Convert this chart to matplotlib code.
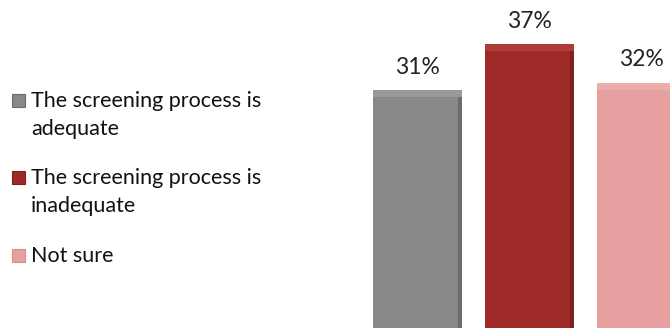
import matplotlib.pyplot as plt
from matplotlib.patches import Rectangle

# Data
categories = ["The screening process is\nadequate",
              "The screening process is\ninadequate",
              "Not sure"]
values = [31, 37, 32]
colors = ["#888888", "#9e2a27", "#e6a09f"]
light_colors = ["#999999", "#ad3b36", "#ecaeac"]
dark_colors = ["#6c6c6c", "#7f211e", "#d48e8c"]

plt.rcParams['font.family'] = ['Lato', 'DejaVu Sans']

W, H = 670, 333
fig = plt.figure(figsize=(W / 100, H / 100), dpi=100)
ax = fig.add_axes([360 / W, 0, 310 / W, 1])

x = list(range(len(values)))
width = 0.795
ax.bar(x, values, width=width, color=colors, edgecolor="none")

# subtle bevel: lighter band on top, darker strip on the right side
bevel = 0.9
ax.bar(x, [bevel] * len(values), bottom=[v - bevel for v in values],
       width=width, color=light_colors, edgecolor="none")
ax.bar([xi + width / 2 - 0.02 for xi in x], [v - bevel for v in values],
       width=0.04, color=dark_colors, edgecolor="none")

for xi, v in zip(x, values):
    ax.annotate(f"{v}%", (xi, v), xytext=(0, 12), textcoords="offset points",
                ha="center", va="baseline", fontsize=16.5, color="#222222")

ax.set_xlim(-0.513, 2.254)
ax.set_ylim(-0.63, 42.8)
ax.axis("off")

# Legend drawn by hand to match the wrapped labels
first_baselines = [107, 184, 262]  # pixel rows of the first text line
line_step = 28
for label, c, dc, yb in zip(categories, colors, dark_colors, first_baselines):
    fig.patches.append(Rectangle((12 / W, 1 - yb / H), 13 / W, 13 / H,
                                 transform=fig.transFigure, facecolor=c,
                                 edgecolor=dc, linewidth=0.8))
    for i, line in enumerate(label.split("\n")):
        fig.text(31 / W, 1 - (yb + i * line_step) / H, line, ha="left",
                 va="baseline", fontsize=15.5, color="#111111")

fig.savefig("out.png", dpi=100)
